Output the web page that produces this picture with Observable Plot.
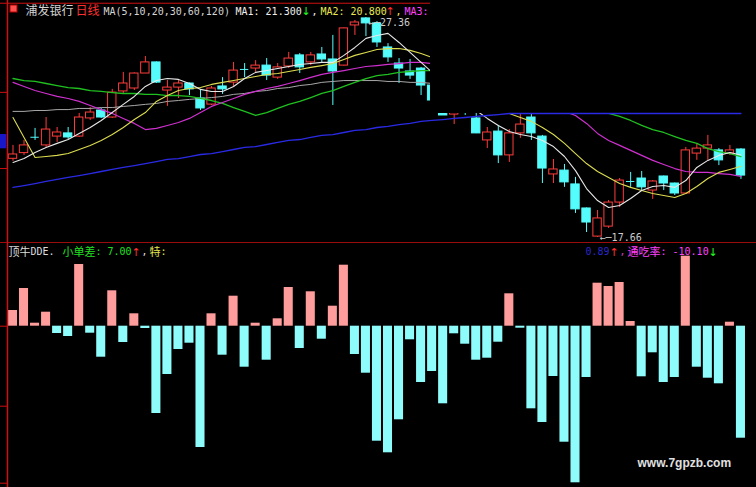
<!DOCTYPE html>
<html><head><meta charset="utf-8">
<script src="https://cdn.jsdelivr.net/npm/d3@7"></script>
<script src="https://cdn.jsdelivr.net/npm/@observablehq/plot@0.6"></script>
<style>
html,body{margin:0;padding:0;background:#000;overflow:hidden}
#chart svg{display:block}
</style></head><body><div id="chart"></div>
<script>
// ---------------- data ----------------
const stockName = "浦发银行";
const period = "日线";
const maLabel = "MA(5,10,20,30,60,120)";
const ma1Value = "21.300";
const ma2Value = "20.800";
const highLabel = 27.36, highDay = 32;
const lowLabel = 17.66, lowDay = 53;

const openP = [21.13,21.38,22.08,21.72,22.11,22.25,22.11,22.91,23.26,22.95,
  24.10,24.23,24.89,25.38,24.14,24.27,24.45,23.79,23.52,24.32,
  24.49,25.07,25.11,25.24,24.71,25.20,25.69,25.38,25.73,25.51,
  25.24,27.01,27.32,27.10,26.04,25.33,24.98,25.11,24.36,23.70,
  23.08,23.70,22.91,21.94,22.33,21.28,22.25,22.95,22.11,20.44,
  20.61,20.00,18.94,17.70,18.14,19.20,20.13,20.26,19.73,20.35,
  20.04,19.60,21.36,21.58,21.50,21.36,21.54];
const closeP = [21.32,21.72,22.08,22.42,22.29,22.07,22.95,23.17,22.95,24.05,
  24.45,24.89,25.38,24.49,24.27,24.45,24.19,23.35,24.23,24.19,
  25.02,25.07,25.24,24.80,25.16,25.55,25.16,25.69,25.51,24.98,
  26.88,27.14,27.10,26.26,25.60,25.11,24.80,24.36,23.70,23.04,
  23.48,23.26,22.25,22.29,21.28,22.25,22.64,22.25,20.70,20.66,
  20.09,18.90,18.32,18.50,19.20,20.17,20.13,19.87,20.13,20.04,
  19.60,21.50,21.58,21.72,21.06,21.50,20.39];
const highP = [21.72,21.94,22.47,22.95,22.51,22.51,23.13,23.39,23.35,24.19,
  24.94,24.92,25.64,25.40,24.58,24.58,24.47,24.14,24.32,24.71,
  25.38,25.33,25.46,25.55,25.33,25.82,25.77,25.82,26.04,26.57,
  26.90,27.23,27.36,27.18,26.21,25.55,25.51,25.16,24.58,23.92,
  23.70,23.92,23.26,22.51,22.60,22.42,23.26,23.26,22.16,21.10,
  20.88,20.31,18.96,18.85,19.29,20.26,20.53,20.57,20.17,20.37,
  20.06,21.63,21.80,22.16,21.58,21.72,21.58];
const lowP = [21.02,21.28,21.94,21.63,21.85,21.98,22.07,22.82,22.91,22.91,
  24.01,24.14,24.89,24.45,23.44,23.79,23.92,23.26,23.48,23.97,
  24.27,24.71,24.94,24.58,24.63,25.11,24.89,25.24,25.33,23.48,
  25.22,26.57,26.52,26.04,25.38,24.45,24.63,23.92,23.48,23.04,
  22.64,23.04,22.24,21.58,20.92,20.97,22.03,21.94,20.04,20.04,
  19.87,18.72,17.88,17.66,18.06,18.98,19.87,19.73,19.34,19.73,
  19.51,19.56,21.06,21.06,20.83,21.28,20.22];

const ma5 = [20.97,21.14,21.41,21.63,21.81,21.98,22.25,22.51,22.82,23.17,
  23.53,23.88,24.32,24.58,24.67,24.63,24.45,24.19,24.10,24.10,
  24.32,24.67,24.94,25.02,25.11,25.20,25.29,25.33,25.38,25.38,
  25.69,26.04,26.44,26.57,26.66,26.26,25.82,25.38,24.94,24.36,
  23.79,23.35,23.26,22.91,22.60,22.33,22.20,22.11,21.94,21.67,
  21.23,20.61,19.82,19.29,18.98,19.07,19.38,19.73,19.91,19.95,
  19.87,20.17,20.75,21.06,21.28,21.41,21.30];
const ma10 = [22.95,22.07,21.19,21.23,21.28,21.36,21.54,21.72,21.94,22.20,
  22.51,22.86,23.17,23.66,23.92,24.14,24.23,24.27,24.41,24.50,
  24.58,24.67,24.76,24.85,24.89,24.98,25.07,25.16,25.24,25.33,
  25.51,25.69,25.82,25.95,25.99,25.99,25.91,25.77,25.60,25.24,
  24.80,24.36,23.92,23.61,23.35,23.13,22.95,22.78,22.51,22.20,
  21.81,21.36,20.92,20.57,20.31,20.04,19.87,19.73,19.60,19.51,
  19.42,19.60,19.91,20.26,20.53,20.66,20.80];
const ma20 = [24.50,24.32,24.14,24.01,23.88,23.79,23.66,23.48,23.30,23.13,
  22.91,22.69,22.42,22.47,22.60,22.73,22.91,23.17,23.44,23.61,
  23.79,23.97,24.10,24.23,24.32,24.45,24.58,24.72,24.85,24.94,
  25.02,25.11,25.20,25.24,25.29,25.33,25.38,25.38,25.33,25.20,
  25.02,24.80,24.58,24.36,24.14,23.92,23.75,23.57,23.39,23.30,
  23.22,23.04,22.69,22.25,21.94,21.72,21.50,21.28,21.06,20.88,
  20.70,20.57,20.53,20.53,20.48,20.44,20.35];
const ma30 = [24.67,24.58,24.54,24.45,24.36,24.27,24.23,24.14,24.10,24.05,
  24.01,24.01,23.97,23.97,23.92,23.92,23.88,23.79,23.70,23.57,
  23.39,23.22,23.04,23.17,23.35,23.53,23.66,23.83,24.01,24.14,
  24.32,24.50,24.67,24.80,24.85,24.94,24.98,25.02,25.02,24.98,
  24.89,24.76,24.63,24.50,24.36,24.23,24.10,23.97,23.83,23.70,
  23.57,23.44,23.30,23.22,23.13,23.00,22.82,22.60,22.42,22.29,
  22.11,21.94,21.81,21.58,21.45,21.36,21.23];
const ma60 = [23.22,23.22,23.26,23.26,23.30,23.30,23.35,23.35,23.39,23.39,
  23.44,23.48,23.53,23.57,23.66,23.70,23.75,23.79,23.83,23.88,
  23.97,24.01,24.10,24.14,24.23,24.27,24.36,24.41,24.50,24.54,
  24.58,24.58,24.58,24.58,24.54,24.54,24.50,24.50,24.45,24.41,
  24.36,24.32,24.27,24.23,24.18,24.14,24.10,24.05,24.01,23.97,
  23.92,23.88,23.84,23.80,23.76,23.72,23.68,23.64,23.60,23.56,
  23.52,23.48,23.44,23.40,23.36,23.33,23.30];
const ma120 = [19.87,19.95,20.04,20.13,20.22,20.31,20.39,20.48,20.57,20.66,
  20.75,20.83,20.92,21.01,21.10,21.14,21.23,21.32,21.36,21.45,
  21.54,21.63,21.67,21.76,21.85,21.94,21.98,22.07,22.16,22.20,
  22.29,22.38,22.42,22.51,22.56,22.64,22.69,22.78,22.82,22.86,
  22.91,22.95,23.00,23.04,23.08,23.13,23.17,23.21,23.25,23.29,
  23.33,23.37,23.40,23.43,23.46,23.49,23.52,23.55,23.58,23.61,
  23.64,23.66,23.68,23.70,23.72,23.74,23.76];

const dde = [1.57,3.77,0.30,1.40,-0.73,-1.03,6.17,-0.70,-3.10,3.54,
  -1.63,1.24,-0.23,-8.73,-4.83,-2.33,-1.70,-12.13,1.24,-2.90,
  3.00,-4.10,0.30,-3.40,0.74,3.87,-2.23,3.44,-1.30,2.00,
  6.10,-2.83,-4.70,-11.50,-12.66,-9.36,-1.36,-5.63,-4.53,-7.76,
  -0.76,-1.80,-3.40,-3.20,-1.60,3.24,-0.20,-8.26,-9.63,-5.03,
  -11.60,-15.66,-5.13,4.30,3.97,4.37,0.47,-5.06,-2.66,-5.63,
  -5.13,7.00,-4.10,-5.20,-5.76,0.40,-11.20];

const topTicks = [24.06, 20.70];
const bottomTicks = [0, -8.0, -15.7];
const windowEdgePrice = 23.128;   // right window shows prices below this only
const windowStartDay = 37.85;

// ---------------- chart ----------------
const RED = "#ff3c3c", CYAN = "#54fcfc", AXIS = "#d01010";
const MONO = "DejaVu Sans Mono, Liberation Mono, monospace";
const ARW = "DejaVu Sans, sans-serif";
const CJK = "Noto Sans CJK SC, sans-serif";
const days = openP.map((_, i) => i);
const candles = days.map(i => ({i, o: openP[i], c: closeP[i], h: highP[i], l: lowP[i]}));
const col = d => d.c > d.o ? RED : CYAN;
const xDomain = [-1.133, 67.41];
const maLines = [
  {v: ma60, color: "#a8a8a8", w: 1},
  {v: ma30, color: "#20c020", w: 1.3},
  {v: ma20, color: "#d030d0", w: 1.2},
  {v: ma10, color: "#dcdc50", w: 1.1},
  {v: ma5,  color: "#e8e8e8", w: 1.1}
];

function label(text, dx, dy, color, font, size, weight) {
  return Plot.text([text], {frameAnchor: "top-left", dx, dy, textAnchor: "start", lineAnchor: "middle",
    fill: color, fontFamily: font, fontSize: size, fontWeight: weight || "normal"});
}

const topChart = Plot.plot({
  width: 756, height: 243, margin: 0,
  x: {domain: xDomain, axis: null},
  y: {domain: [17.395, 28.11], axis: null},
  style: {background: "#000", overflow: "hidden"},
  marks: [
    Plot.ruleX(candles, {x: "i", y1: "l", y2: "h", stroke: col, strokeWidth: 1}),
    Plot.rect(candles, {x1: d => d.i - 0.38, x2: d => d.i + 0.38, y1: "o", y2: "c",
      fill: d => d.c > d.o ? "#000" : CYAN, stroke: col, strokeWidth: 1}),
    Plot.ruleY(candles.filter(d => d.o === d.c), {y: "o", x1: d => d.i - 0.38, x2: d => d.i + 0.38, stroke: col}),
    ...maLines.map(s => Plot.line(days, {x: d => d, y: d => s.v[d], stroke: s.color, strokeWidth: s.w})),
    // hidden part of the right-hand window
    Plot.rect([{x1: windowStartDay, x2: 67.5, y1: windowEdgePrice, y2: 28.3}], {x1: "x1", x2: "x2", y1: "y1", y2: "y2", fill: "#000"}),
    Plot.line(days, {x: d => d, y: d => Math.min(ma120[d], windowEdgePrice), stroke: "#2a2ae6", strokeWidth: 1.3}),
    // axes / frame
    Plot.ruleX([-0.5], {stroke: AXIS, strokeWidth: 1.5}),
    Plot.ruleY(topTicks, {x1: xDomain[0], x2: -0.5, stroke: AXIS}),
    Plot.ruleY([27.99], {x1: xDomain[0], x2: windowStartDay, stroke: AXIS}),
    Plot.ruleY([17.42], {stroke: AXIS, strokeWidth: 1.3}),
    Plot.rect([{a: 21.57, b: 22.20}], {x1: xDomain[0], x2: -0.55, y1: "a", y2: "b", fill: "#1818c8"}),
    Plot.rect([{a: 27.58, b: 27.89}], {x1: -0.227, x2: 0.408, y1: "a", y2: "b", fill: "#ff5050", stroke: "#b00000"}),
    // high / low labels
    Plot.text([{i: highDay, p: highLabel}], {x: "i", y: "p", text: d => "←─" + d.p.toFixed(2), dx: 2, dy: 5,
      textAnchor: "start", fill: "#cccccc", fontFamily: MONO, fontSize: 10}),
    Plot.text([{i: lowDay, p: lowLabel}], {x: "i", y: "p", text: d => "←─" + d.p.toFixed(2), dx: 2, dy: 0,
      textAnchor: "start", fill: "#cccccc", fontFamily: MONO, fontSize: 10}),
    // title
    label(stockName, 25, 11, "#d4d4d4", CJK, 12),
    label(period, 75, 11, "#ff3030", CJK, 12),
    label(maLabel, 103, 11, "#d4d4d4", MONO, 10),
    label("MA1: " + ma1Value, 235, 11, "#eeeeee", MONO, 10),
    label("↓", 301, 11, "#20ff20", ARW, 11),
    label(",", 311, 11, "#eeeeee", MONO, 10),
    label("MA2: " + ma2Value, 320, 11, "#e8e850", MONO, 10),
    label("↑", 385, 10.5, "#ff3030", ARW, 11),
    label(",", 395, 11, "#e8e850", MONO, 10),
    label("MA3:", 404, 11, "#ff40ff", MONO, 10)
  ]
});

const bars = days.map(i => ({i, v: dde[i]}));
const HY = 8.5;
const bottomChart = Plot.plot({
  width: 756, height: 244, margin: 0,
  x: {domain: xDomain, axis: null},
  y: {domain: [-16.13, 8.27], axis: null},
  style: {background: "#000", overflow: "visible"},
  marks: [
    Plot.rect(bars, {x1: d => d.i - 0.41, x2: d => d.i + 0.41, y1: 0, y2: "v",
      fill: d => d.v >= 0 ? "#ff9c9c" : "#8ffcfc"}),
    Plot.ruleX([-0.5], {stroke: AXIS, strokeWidth: 1.5}),
    Plot.ruleY(bottomTicks, {x1: xDomain[0], x2: -0.5, stroke: AXIS}),
    label("顶牛", 8, HY, "#dddddd", CJK, 11),
    label("DDE.", 30, HY, "#dddddd", MONO, 10),
    label("小单差", 62, HY, "#20e020", CJK, 11),
    label(": 7.00", 95, HY, "#20e020", MONO, 10),
    label("↑", 131, HY, "#ff3030", ARW, 11),
    label(",", 141, HY, "#dddddd", MONO, 10),
    label("特", 149, HY, "#e8e850", CJK, 11),
    label(":", 160, HY, "#e8e850", MONO, 10),
    label("0.89", 585, HY, "#2828c8", MONO, 10),
    label("↑", 609, HY, "#ff3030", ARW, 11),
    label(",", 619, HY, "#c040c0", MONO, 10),
    label("通吃率", 627, HY, "#ff40ff", CJK, 11),
    label(": -10.10", 660, HY, "#ff40ff", MONO, 10),
    label("↓", 708, HY, "#20ff20", ARW, 11),
    label("www.7gpzb.com", 637, 220, "#e0e0e0", "Liberation Sans, Arial, sans-serif", 12, "bold")
  ]
});

const root = document.getElementById("chart");
root.appendChild(topChart);
root.appendChild(bottomChart);
</script>
</body></html>
